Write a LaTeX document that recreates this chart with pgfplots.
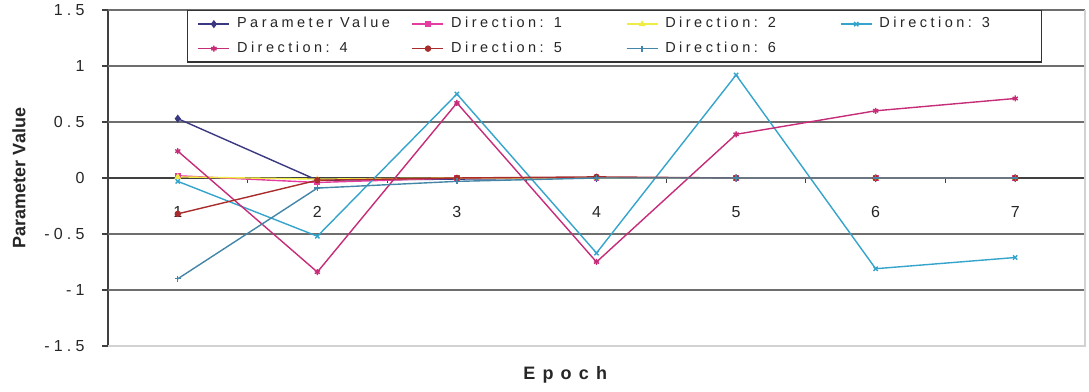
\documentclass[border=0pt]{standalone}
\usepackage{fontspec}
\setmainfont{Liberation Sans}
\newfontfamily\legfont[LetterSpace=24]{Liberation Sans}
\newfontfamily\tickfont[LetterSpace=26]{Liberation Sans}
\newfontfamily\epochfont[LetterSpace=40]{Liberation Sans}
\usepackage{pgfplots}
\pgfplotsset{compat=1.18}

\definecolor{pv}{RGB}{58,56,128}
\definecolor{dOne}{RGB}{228,60,160}
\definecolor{dTwo}{RGB}{240,236,70}
\definecolor{dThree}{RGB}{52,164,204}
\definecolor{dFour}{RGB}{198,44,120}
\definecolor{dFive}{RGB}{168,44,44}
\definecolor{dSix}{RGB}{68,134,168}
\definecolor{gridgray}{RGB}{110,110,110}

\pgfplotstableread{
epoch  pv     d1     d2     d3     d4     d5     d6
1      0.53   0.02   0.01  -0.03   0.24  -0.32  -0.90
2     -0.02  -0.04  -0.01  -0.52  -0.84  -0.02  -0.09
3     -0.01   0.00   0.00   0.75   0.67   0.00  -0.03
4      0.00   0.00   0.00  -0.67  -0.75   0.01   0.00
5      0.00   0.00   0.00   0.92   0.39   0.00   0.00
6      0.00   0.00   0.00  -0.81   0.60   0.00   0.00
7      0.00   0.00   0.00  -0.71   0.71   0.00   0.00
}\epochdata

\begin{document}
\begin{tikzpicture}
\begin{axis}[
  scale only axis,
  width=977pt, height=336pt,
  xmin=0.5, xmax=7.5, ymin=-1.5, ymax=1.5,
  axis x line=middle, axis y line=left,
  axis line style={-, line width=1.1pt, draw=black!75},
  hide obscured x ticks=false, hide obscured y ticks=false,
  xtick={1,...,7},
  xticklabels={1,2,3,4,5,6,7},
  minor xtick={1.5,2.5,...,6.5},
  major x tick style={draw=none},
  minor x tick style={draw=black!75, line width=1pt},
  minor tick length=5pt,
  xtick align=outside,
  xticklabel style={font=\fontsize{16}{18}\selectfont, text=black!85, yshift=-19pt},
  ytick={-1.5,-1,-0.5,0,0.5,1,1.5},
  yticklabels={-1.5,-1,-0.5,0,0.5,1,1.5},
  ytick align=outside,
  major tick length=6pt,
  major y tick style={draw=black!75, line width=1.1pt},
  yticklabel style={font=\tickfont\fontsize{16}{18}\selectfont, text=black!85, anchor=east, xshift=-14pt},
  extra y ticks={-1,-0.5,0.5,1,1.5},
  extra y tick labels={},
  extra y tick style={grid=major, major tick length=0pt},
  major grid style={draw=gridgray, line width=1.1pt},
  xlabel={\epochfont\bfseries Epoch},
  xlabel style={at={(rel axis cs:0.468,0)}, anchor=north, yshift=-17pt,
    font=\fontsize{18}{20}\selectfont, text=black!85},
  legend columns=4,
  legend style={at={(rel axis cs:0.0809,1)}, anchor=north west,
    draw=black!80, line width=1.3pt, fill=white,
    inner xsep=10pt, inner ysep=7pt, row sep=11.5pt,
    nodes={inner sep=0pt, text height=10pt, text depth=3pt,
      font=\legfont\fontsize{14.5}{16}\selectfont, text=black!85},
    /tikz/every odd column/.append style={column sep=7pt},
    /tikz/every even column/.append style={column sep=22.7pt}},
  legend cell align=left,
  legend image code/.code={\draw[mark repeat=2,mark phase=2,#1]
    plot coordinates {(0pt,0pt) (15.5pt,0pt) (31pt,0pt)};},
  every axis plot/.append style={line width=1.4pt},
  clip=false,
]
% light frame on the right and bottom of the plot area
\draw[gray!35, line width=1.1pt] (rel axis cs:0,0) -- (rel axis cs:1,0) -- (rel axis cs:1,1);

\addplot[color=pv, mark=diamond*, mark size=3pt] table[x=epoch, y=pv] {\epochdata};
\addlegendentry{\makebox[152pt][l]{Parameter Value}}
\addplot[color=dOne, mark=square*, mark size=2.2pt] table[x=epoch, y=d1] {\epochdata};
\addlegendentry{\makebox[152pt][l]{Direction: 1}}
\addplot[color=dTwo, mark=triangle*, mark size=2.5pt] table[x=epoch, y=d2] {\epochdata};
\addlegendentry{\makebox[152pt][l]{Direction: 2}}
\addplot[color=dThree, mark=x, mark size=3pt] table[x=epoch, y=d3] {\epochdata};
\addlegendentry{\makebox[152pt][l]{Direction: 3}}
\addplot[color=dFour, mark=asterisk, mark size=3pt] table[x=epoch, y=d4] {\epochdata};
\addlegendentry{\makebox[152pt][l]{Direction: 4}}
\addplot[color=dFive, mark=*, mark size=2.5pt] table[x=epoch, y=d5] {\epochdata};
\addlegendentry{\makebox[152pt][l]{Direction: 5}}
\addplot[color=dSix, mark=+, mark size=3pt] table[x=epoch, y=d6] {\epochdata};
\addlegendentry{\makebox[152pt][l]{Direction: 6}}
\end{axis}
% y axis title, set beside the tick labels
\node[rotate=90, font=\bfseries\fontsize{18}{20}\selectfont, text=black!85]
  at ([xshift=-89pt]current axis.west) {Parameter Value};
\pgfresetboundingbox
\path[use as bounding box] ([shift={(-108pt,-46pt)}]current axis.south west)
  rectangle ([shift={(4pt,10pt)}]current axis.north east);
\end{tikzpicture}
\end{document}
